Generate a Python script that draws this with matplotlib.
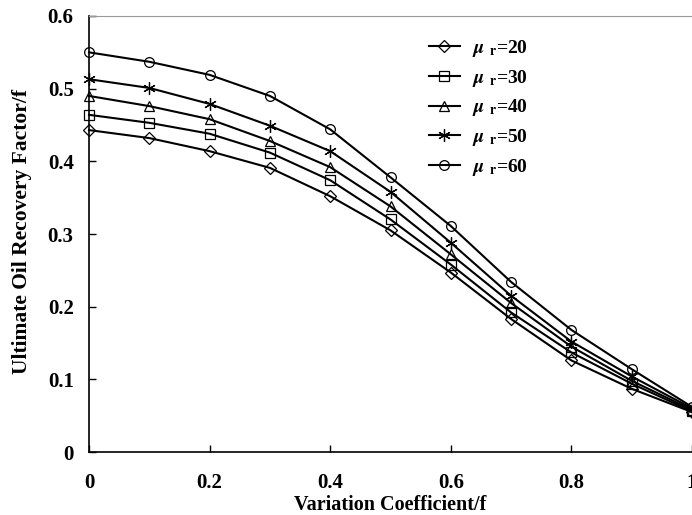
import matplotlib
matplotlib.use("Agg")
import matplotlib.pyplot as plt

plt.rcParams['font.family'] = ['Liberation Serif', 'DejaVu Serif']
plt.rcParams['font.weight'] = 'bold'
plt.rcParams['mathtext.fontset'] = 'stix'

x = [0, 0.1, 0.2, 0.3, 0.4, 0.5, 0.6, 0.7, 0.8, 0.9, 1.0]
mu20 = [0.443, 0.432, 0.414, 0.391, 0.352, 0.305, 0.247, 0.183, 0.126, 0.087, 0.055]
mu30 = [0.464, 0.453, 0.438, 0.412, 0.374, 0.320, 0.258, 0.192, 0.137, 0.094, 0.056]
mu40 = [0.490, 0.476, 0.458, 0.428, 0.392, 0.338, 0.272, 0.205, 0.145, 0.098, 0.058]
mu50 = [0.513, 0.501, 0.479, 0.449, 0.414, 0.358, 0.288, 0.215, 0.152, 0.104, 0.060]
mu60 = [0.550, 0.537, 0.519, 0.490, 0.444, 0.378, 0.311, 0.234, 0.168, 0.114, 0.062]
labels = ["20", "30", "40", "50", "60"]
series = [mu20, mu30, mu40, mu50, mu60]
markers = ['D', 's', '^', (6, 2, 0), 'o']
msizes = [6, 6.5, 7.5, 9, 7]

fig = plt.figure(figsize=(6.92, 5.15), dpi=100)
ax = fig.add_axes([89/692, 1-452/515, 1-89/692, (452-16)/515])

for ys, lab, m, ms in zip(series, labels, markers, msizes):
    ax.plot(x, ys, color='black', lw=1.5, marker=m, ms=ms,
            mfc='none', mec='black', mew=0.9,
            label=r"$\boldsymbol{\mu}\ _{\mathbf{r}}$=" + lab, clip_on=False)

ax.set_xlim(0, 1)
ax.set_ylim(0, 0.6)
ax.set_xticks([0, 0.2, 0.4, 0.6, 0.8, 1.0])
ax.set_xticklabels(["0", "0.2", "0.4", "0.6", "0.8", "1"])
ax.set_yticks([0, 0.1, 0.2, 0.3, 0.4, 0.5, 0.6])
ax.set_yticklabels(["0", "0.1", "0.2", "0.3", "0.4", "0.5", "0.6"])
ax.tick_params(direction='in', length=5, width=1, labelsize=15)
ax.tick_params(axis='x', pad=15)
ax.tick_params(axis='y', pad=11)
for lbl in ax.get_xticklabels() + ax.get_yticklabels():
    lbl.set_fontweight('bold')

ax.spines['left'].set_linewidth(1.2)
ax.spines['bottom'].set_linewidth(1.2)
ax.spines['top'].set_color('#999999')
ax.spines['top'].set_linewidth(0.8)
ax.spines['right'].set_visible(False)

ax.set_xlabel("Variation Coefficient/f", fontsize=14.5, fontweight='bold')
ax.set_ylabel("Ultimate Oil Recovery Factor/f", fontsize=15.5, fontweight='bold')
ax.yaxis.set_label_coords(-(89-32)/603, (452-231)/436)
ax.xaxis.set_label_coords(0.5, -(515-452)/436)
ax.xaxis.label.set_va('bottom')

leg = ax.legend(loc='upper left', bbox_to_anchor=((411-89)/603, 0.99), frameon=False,
                fontsize=14, handlelength=1.6, labelspacing=0.45, handletextpad=0.65)
for t in leg.get_texts():
    t.set_fontweight('bold')

fig.savefig("out.png", dpi=100)
